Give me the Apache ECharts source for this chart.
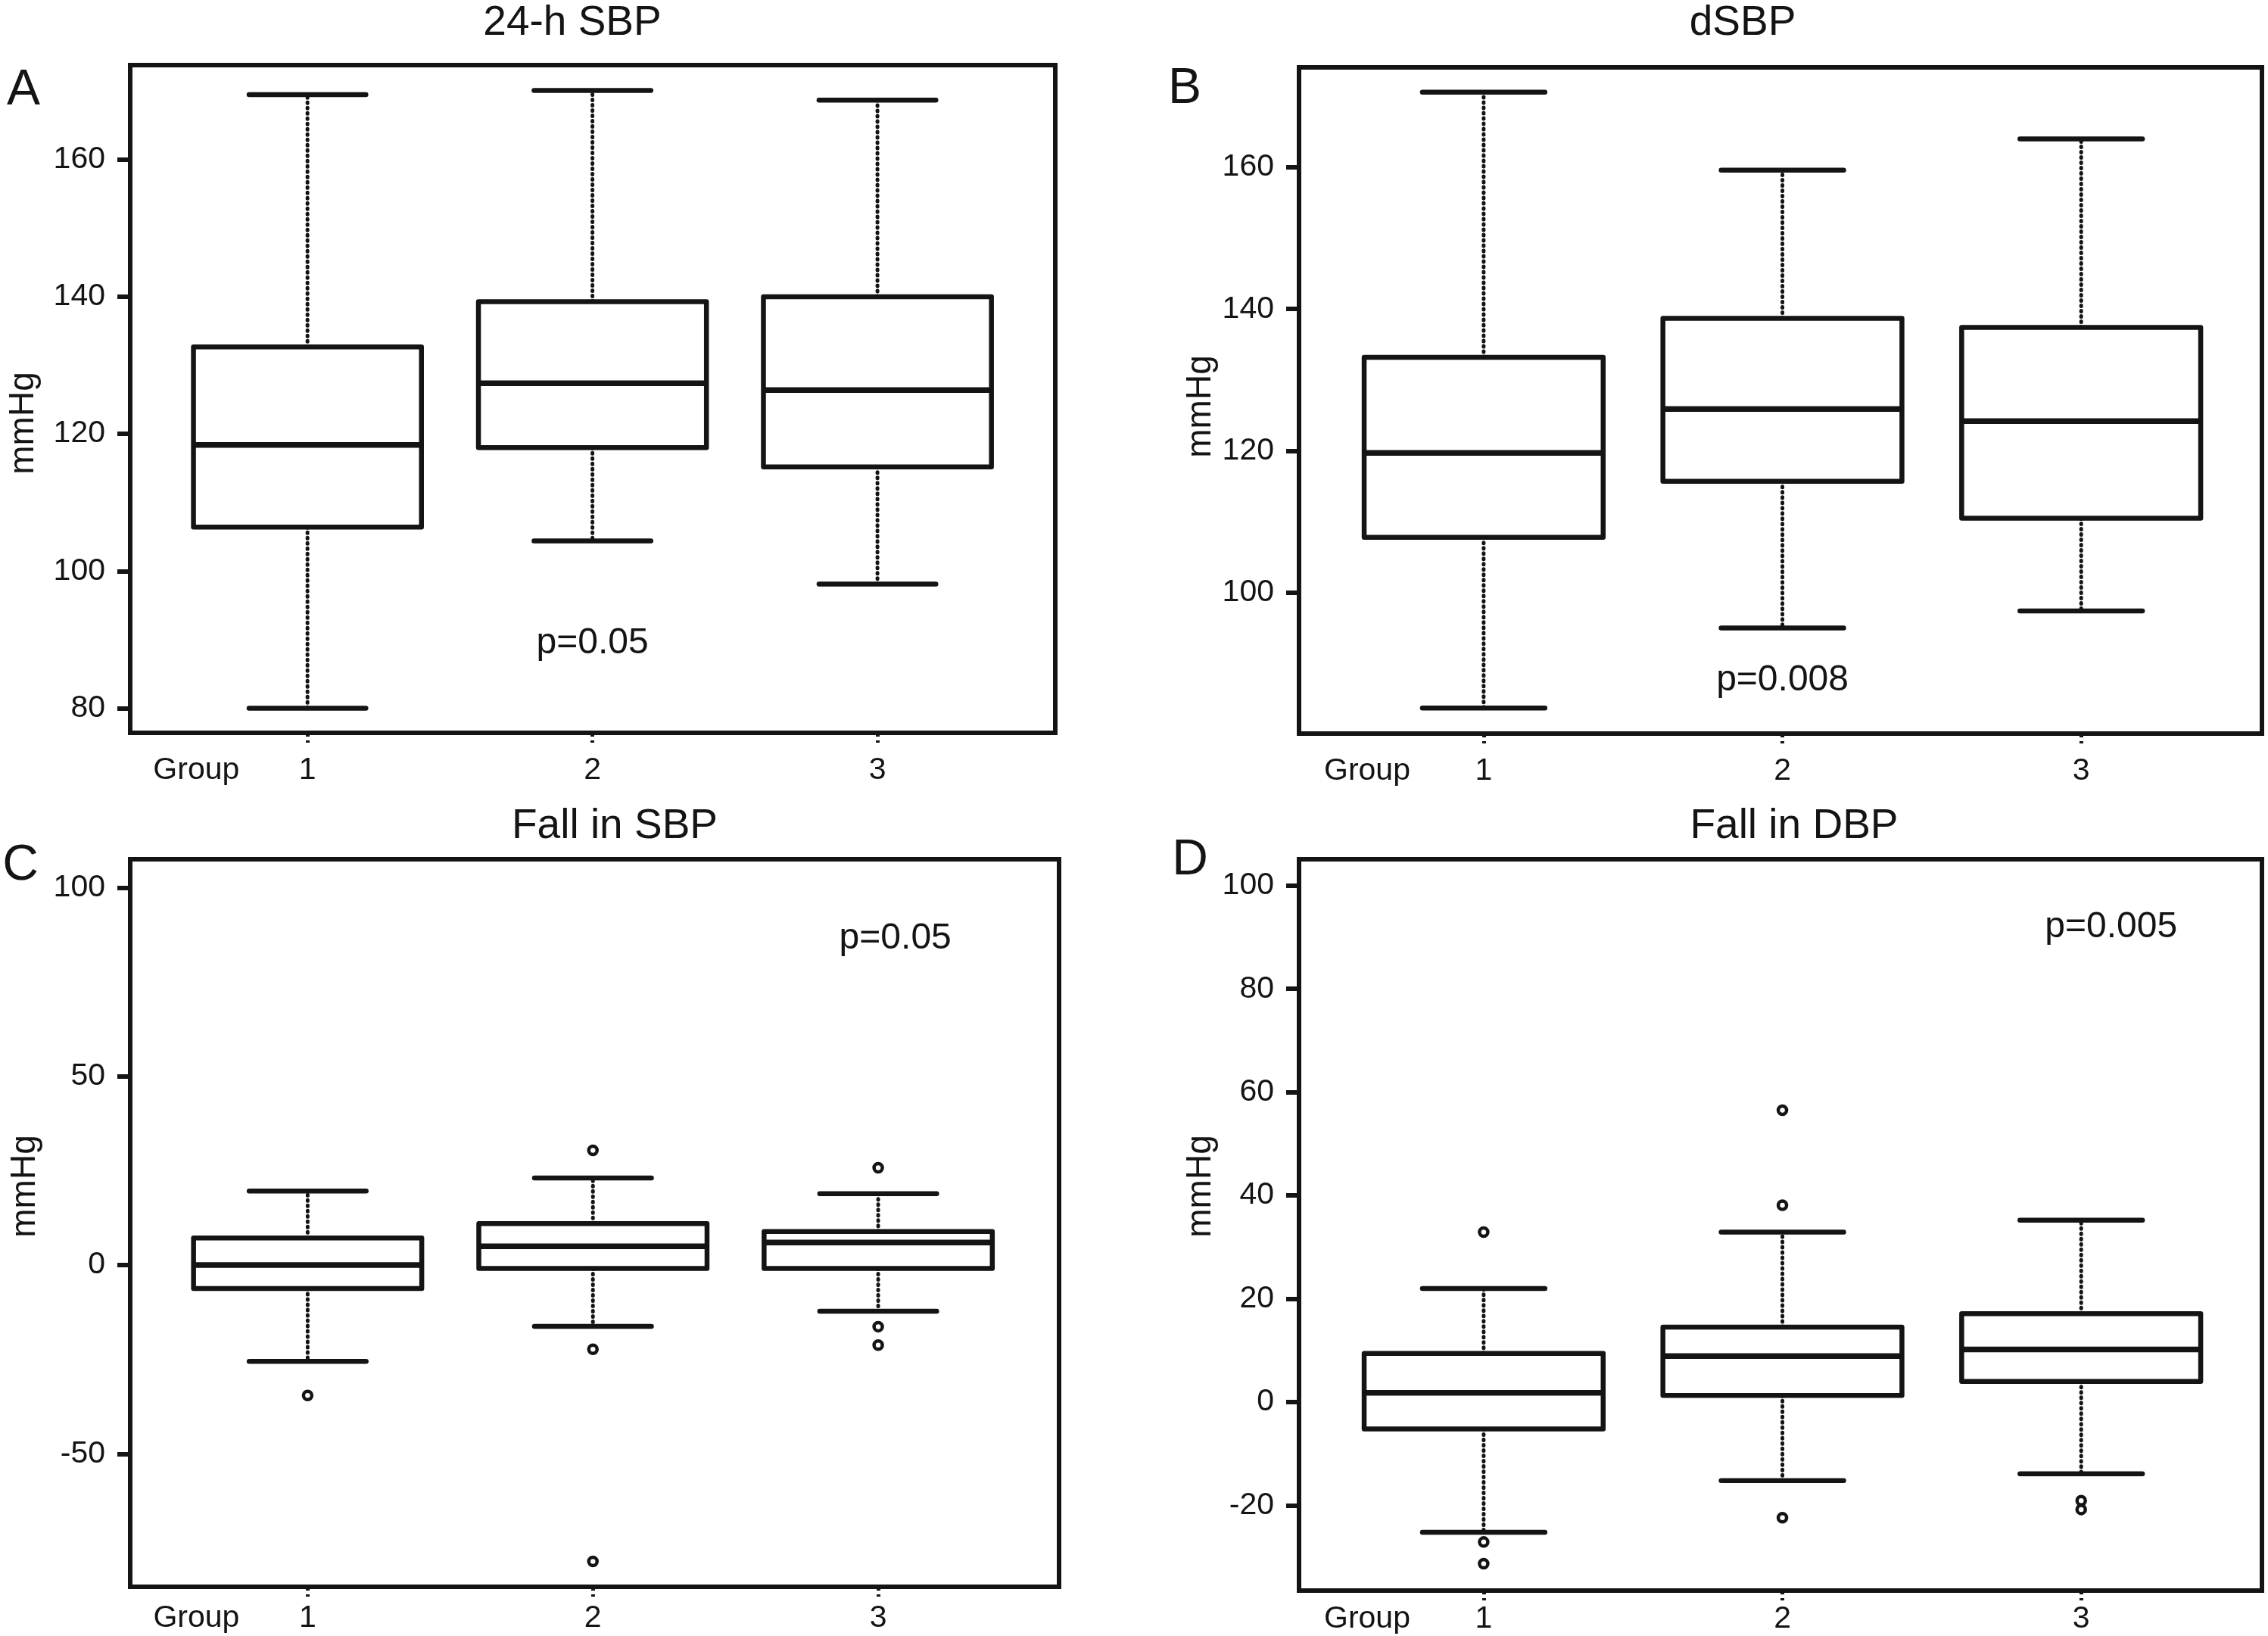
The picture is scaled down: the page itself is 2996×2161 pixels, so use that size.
<!DOCTYPE html>
<html>
<head>
<meta charset="utf-8">
<script src="https://cdn.jsdelivr.net/npm/echarts@6/dist/echarts.min.js"></script>
<style>
html,body{margin:0;padding:0;background:#fff;}
#chart{width:2996px;height:2161px;}
</style>
</head>
<body>
<div id="chart"></div>
<script>
// ---------- data ----------
const groups = [1, 2, 3];
const groupAxisName = 'Group';
const panelTitles = ['24-h SBP', 'dSBP', 'Fall in SBP', 'Fall in DBP'];
const panelLetters = ['A', 'B', 'C', 'D'];
const yAxisName = 'mmHg';
// box statistics per group: [min whisker, Q1, median, Q3, max whisker]
const sbp24 = [[80.0, 106.4, 118.4, 132.7, 169.5], [104.4, 118.0, 127.4, 139.3, 170.1], [98.1, 115.2, 126.4, 140.0, 168.7]];
const dsbp = [[83.7, 107.8, 119.7, 133.2, 170.6], [95.0, 115.7, 125.9, 138.7, 159.6], [97.4, 110.5, 124.2, 137.4, 164.0]];
const fallSbp = [[-25.5, -6.2, 0.0, 7.2, 19.6], [-16.2, -0.9, 5.0, 11.0, 23.1], [-12.2, -0.9, 6.0, 8.9, 18.9]];
const fallDbp = [[-25.2, -5.2, 1.8, 9.4, 22.0], [-15.2, 1.3, 8.9, 14.5, 32.9], [-13.9, 4.0, 10.2, 17.1, 35.2]];
// outliers: [group, value]
const sbp24Outliers = [];
const dsbpOutliers = [];
const fallSbpOutliers = [[1, -34.5], [2, 30.4], [2, -22.3], [2, -78.5], [3, 25.8], [3, -16.3], [3, -21.2]];
const fallDbpOutliers = [[1, 32.9], [1, -27.1], [1, -31.3], [2, 56.5], [2, 38.1], [2, -22.4], [3, -19.1], [3, -20.8]];
// p-value annotations: [group position, value, text]
const pLabels = [[2.0, 89.5, 'p=0.05'], [2.0, 87.6, 'p=0.008'], [3.06, 86.5, 'p=0.05'], [3.1, 91.9, 'p=0.005']];
// y tick labels
const yTicksA = [80, 100, 120, 140, 160];
const yTicksB = [100, 120, 140, 160];
const yTicksC = [-50, 0, 50, 100];
const yTicksD = [-20, 0, 20, 40, 60, 80, 100];
// axis extents
const yRanges = [[76.4, 173.8], [80.1, 174.1], [-85.2, 107.5], [-36.5, 105.1]];
const xRanges = [[0.378, 3.624], [0.382, 3.605], [0.378, 3.634], [0.382, 3.605]];
const groupLabelPos = 0.61;

// ---------- layout / style ----------
const FONT = '"Liberation Sans", Arial, Helvetica, sans-serif';
const INK = '#141414';
const gridBoxes = [
  {left: 172, top: 86, width: 1222, height: 882},
  {left: 1716, top: 89, width: 1272, height: 880},
  {left: 172, top: 1135, width: 1227, height: 961},
  {left: 1716, top: 1135, width: 1272, height: 966}
];
const xLabelMargins = [29, 29, 21, 17];
const titlePos = [[756, 31], [2302, 31], [812, 1092], [2370, 1092]];
const letterPos = [[31, 120], [1565, 118], [27, 1144], [1572, 1137]];
const mmHgPos = [[31, 559], [1586, 537], [33, 1567], [1586, 1567]];

const stats = [sbp24, dsbp, fallSbp, fallDbp];
const outliers = [sbp24Outliers, dsbpOutliers, fallSbpOutliers, fallDbpOutliers];
const yTicks = [yTicksA, yTicksB, yTicksC, yTicksD];

const BOX_W = 0.8, CAP_W = 0.41;

function renderBox(params, api) {
  const x = api.value(0);
  const vMin = api.value(1), q1 = api.value(2), med = api.value(3), q3 = api.value(4), vMax = api.value(5);
  const c = api.coord([x, med]);
  const yMin = api.coord([x, vMin])[1];
  const yQ1 = api.coord([x, q1])[1];
  const yQ3 = api.coord([x, q3])[1];
  const yMax = api.coord([x, vMax])[1];
  const hb = api.size([BOX_W, 0])[0] / 2;
  const hc = api.size([CAP_W, 0])[0] / 2;
  const cx = c[0];
  const dotted = {stroke: INK, lineWidth: 5, lineDash: [1, 6], lineCap: 'round'};
  const solid = {stroke: INK, lineWidth: 6.5, lineCap: 'round'};
  return {
    type: 'group',
    children: [
      {type: 'line', shape: {x1: cx, y1: yQ3, x2: cx, y2: yMax}, style: dotted},
      {type: 'line', shape: {x1: cx, y1: yQ1, x2: cx, y2: yMin}, style: dotted},
      {type: 'line', shape: {x1: cx - hc, y1: yMax, x2: cx + hc, y2: yMax}, style: solid},
      {type: 'line', shape: {x1: cx - hc, y1: yMin, x2: cx + hc, y2: yMin}, style: solid},
      {type: 'rect', shape: {x: cx - hb, y: yQ3, width: 2 * hb, height: yQ1 - yQ3},
        style: {fill: '#fff', stroke: INK, lineWidth: 6.5, lineJoin: 'round'}},
      {type: 'line', shape: {x1: cx - hb, y1: c[1], x2: cx + hb, y2: c[1]}, style: {stroke: INK, lineWidth: 7.5}}
    ]
  };
}

function renderP(idx, api) {
  const p = api.coord([api.value(0), api.value(1)]);
  return {
    type: 'text', x: p[0], y: p[1],
    style: {text: pLabels[idx][2], font: '48px ' + FONT, fill: INK, align: 'center', verticalAlign: 'middle'}
  };
}

const grid = gridBoxes.map(g => Object.assign({}, g, {
  show: true, borderColor: INK, borderWidth: 6, backgroundColor: 'transparent',
  containLabel: false, outerBoundsMode: 'none'
}));

const xAxis = gridBoxes.map((g, i) => ({
  type: 'value', gridIndex: i, min: xRanges[i][0], max: xRanges[i][1],
  axisLine: {show: false, onZero: false},
  splitLine: {show: false},
  axisTick: {show: true, customValues: groups, length: 13, lineStyle: {color: INK, width: 5, type: 'dotted'}},
  axisLabel: {
    show: true, customValues: [groupLabelPos].concat(groups), margin: xLabelMargins[i],
    fontSize: 41, fontFamily: FONT, color: INK,
    formatter: v => (Math.abs(v - groupLabelPos) < 1e-6 ? groupAxisName : String(v))
  }
}));

const yAxis = gridBoxes.map((g, i) => ({
  type: 'value', gridIndex: i, min: yRanges[i][0], max: yRanges[i][1],
  axisLine: {show: false, onZero: false},
  splitLine: {show: false},
  axisTick: {show: true, customValues: yTicks[i], length: 17, lineStyle: {color: INK, width: 6}},
  axisLabel: {show: true, customValues: yTicks[i], margin: 33, fontSize: 41, fontFamily: FONT, color: INK}
}));

const series = [];
stats.forEach((s, i) => {
  series.push({
    type: 'custom', xAxisIndex: i, yAxisIndex: i,
    renderItem: renderBox,
    encode: {x: 0, y: [1, 2, 3, 4, 5]},
    data: s.map((row, k) => [groups[k]].concat(row)),
    silent: true, clip: false, z: 3
  });
  if (outliers[i].length) {
    series.push({
      type: 'scatter', xAxisIndex: i, yAxisIndex: i,
      data: outliers[i],
      symbol: 'circle', symbolSize: 11,
      itemStyle: {color: '#fff', borderColor: INK, borderWidth: 4.5, opacity: 1},
      silent: true, z: 4
    });
  }
  series.push({
    type: 'custom', xAxisIndex: i, yAxisIndex: i,
    renderItem: (params, api) => renderP(i, api),
    encode: {x: 0, y: 1},
    data: [[pLabels[i][0], pLabels[i][1]]],
    silent: true, clip: false, z: 5
  });
});

const graphic = [];
panelTitles.forEach((t, i) => {
  graphic.push({type: 'text', x: titlePos[i][0], y: titlePos[i][1],
    style: {text: t, font: '55px ' + FONT, fill: INK, align: 'center', verticalAlign: 'middle'}});
  graphic.push({type: 'text', x: letterPos[i][0], y: letterPos[i][1],
    style: {text: panelLetters[i], font: '66px ' + FONT, fill: INK, align: 'center', verticalAlign: 'middle'}});
  graphic.push({type: 'text', x: mmHgPos[i][0], y: mmHgPos[i][1], rotation: Math.PI / 2,
    style: {text: yAxisName, font: '46px ' + FONT, fill: INK, align: 'center', verticalAlign: 'middle'}});
});

const chart = echarts.init(document.getElementById('chart'), null, {renderer: 'canvas'});
chart.setOption({
  animation: false,
  backgroundColor: '#fff',
  grid: grid,
  xAxis: xAxis,
  yAxis: yAxis,
  series: series,
  graphic: graphic
});
</script>
</body>
</html>
